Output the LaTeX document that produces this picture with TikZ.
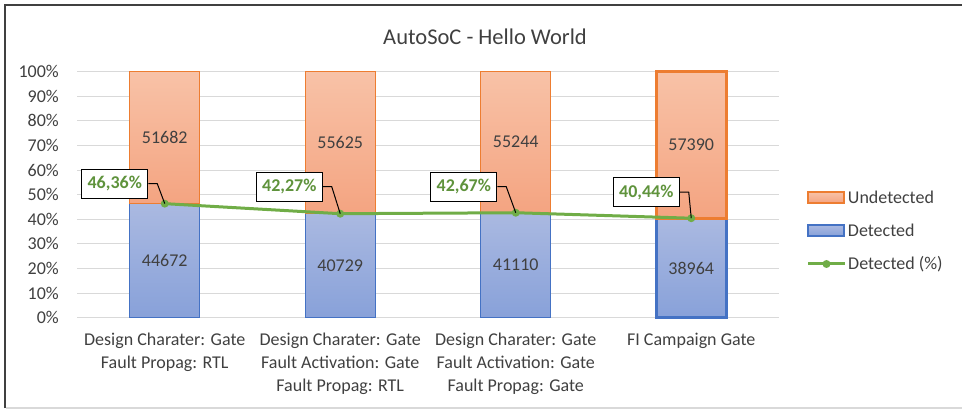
\documentclass[tikz,border=0pt]{standalone}
\usepackage{fontspec}
\setmainfont{Carlito}
\usetikzlibrary{positioning}
\definecolor{mOrange}{HTML}{ED7D31}
\definecolor{mOrTop}{HTML}{F8C2A7}
\definecolor{mOrBot}{HTML}{F4A481}
\definecolor{mBlue}{HTML}{4472C4}
\definecolor{mBlTop}{HTML}{AAB9E1}
\definecolor{mBlBot}{HTML}{88A1D9}
\definecolor{mGreen}{HTML}{70AD47}
\definecolor{mGrid}{HTML}{D9D9D9}
\definecolor{mText}{HTML}{404040}

\begin{document}
\begin{tikzpicture}[x=1pt, y=1pt, every node/.style={font=\fontsize{18}{23}\selectfont, text=mText},
    pctbox/.style={draw=black, line width=1pt, fill=white, text=mGreen!85!black,
      font=\bfseries\fontsize{18}{22}\selectfont, minimum width=66pt, minimum height=29pt, inner sep=2pt}]
    \useasboundingbox (0,0) rectangle (962,410);
    % frame
    \draw[black!75, line width=2pt] (5,2) -- (5,404.5) -- (962,404.5);
    \draw[mGrid, line width=1.5pt] (6,2) -- (962,2);
    \node (title) at (485,373) {\fontsize{22.5}{26}\selectfont AutoSoC - Hello World};
    \begin{scope}[yshift=92.3pt, y=2.46pt]
      \foreach \p in {0,10,...,100} {
        \draw[mGrid, line width=1pt] (77,\p) -- (779,\p);
        \node[left, inner sep=0pt] (tick\p) at (59,\p) {\p\%};
      }
      \foreach \i/\det/\und/\pct/\lab/\dx/\dy/\lw in {1/44672/51682/46.36/{46,36}/-50/20/1,
          2/40729/55625/42.27/{42,27}/-51/27/1, 3/41110/55244/42.67/{42,67}/-52/26/1,
          4/38964/57390/40.44/{40,44}/-45/26/3} {
        \pgfmathsetmacro\cx{164.75+175.5*(\i-1)}
        \draw[mBlue, line width=\lw pt, top color=mBlTop, bottom color=mBlBot] (\cx-35,0) rectangle (\cx+35,\pct);
        \draw[mOrange, line width=\lw pt, top color=mOrTop, bottom color=mOrBot] (\cx-35,\pct) rectangle (\cx+35,100);
        \node (det\i) at (\cx,\pct/2) {\det};
        \node (und\i) at (\cx,{(\pct+100)/2}) {\und};
        \coordinate (pt\i) at (\cx,\pct);
      }
      \draw[mGreen, line width=3pt, line join=round] (pt1) -- (pt2) -- (pt3) -- (pt4);
      \foreach \i/\lab/\dx/\dy in {1/{46,36}/-50/20, 2/{42,27}/-51/27, 3/{42,67}/-52/26, 4/{40,44}/-45/26} {
        \fill[mGreen] (pt\i) circle (4pt);
        \node[pctbox] (pct\i) at ([shift={(\dx pt,\dy pt)}]pt\i) {\lab\%};
        \draw[black, line width=1pt] (pct\i.east) -- ++(9pt,0) -- (pt\i);
      }
    \end{scope}
    % category labels
    \foreach \i/\txt in {1/{Design Charater: Gate\\Fault Propag: RTL},
        2/{Design Charater: Gate\\Fault Activation: Gate\\Fault Propag: RTL},
        3/{Design Charater: Gate\\Fault Activation: Gate\\Fault Propag: Gate},
        4/{FI Campaign Gate}}
      \node[anchor=north, align=center, inner sep=0pt] (cat\i) at ({164.75+175.5*(\i-1)},77) {\txt};
    % legend
    \node[draw=mOrange, line width=1.5pt, top color=mOrTop, bottom color=mOrBot, minimum width=36pt,
      minimum height=11pt, inner sep=0pt] (keyUnd) at (826,212.5) {};
    \node[right=3pt of keyUnd, inner sep=0pt] (txtUnd) {Undetected};
    \node[draw=mBlue, line width=1.5pt, top color=mBlTop, bottom color=mBlBot, minimum width=36pt,
      minimum height=11pt, inner sep=0pt] (keyDet) at (826,179.5) {};
    \node[right=3pt of keyDet, inner sep=0pt] (txtDet) {Detected};
    \coordinate (keyPctA) at (808,146);
    \coordinate (keyPctB) at (845,146);
    \draw[mGreen, line width=3pt] (keyPctA) -- (keyPctB);
    \node[circle, fill=mGreen, inner sep=0pt, minimum size=8pt] (keyPct) at (826.5,146) {};
    \node[right=3pt of keyPctB, inner sep=0pt] (txtPct) {Detected (\%)};
  \end{tikzpicture}
\end{document}
